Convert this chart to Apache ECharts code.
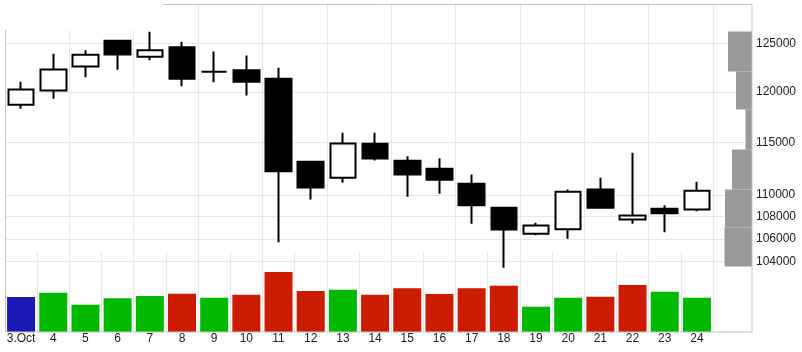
<!DOCTYPE html>
<html><head><meta charset="utf-8">
<script src="https://cdn.jsdelivr.net/npm/echarts@6/dist/echarts.min.js"></script>
<style>html,body{margin:0;padding:0;background:#fff}#c{width:802px;height:352px}</style>
</head><body><div id="c"></div>
<script>
const categories = ['3.Oct','4','5','6','7','8','9','10','11','12','13','14','15','16','17','18','19','20','21','22','23','24'];
const openVals  = [118700,120140,122600,125290,123600,124610,122050,122215,121330,113120,111610,114860,113220,112460,111040,108820,106450,106870,110510,107750,108720,108660];
const closeVals = [120240,122290,123810,123830,124300,121330,122050,121020,112230,110700,114880,113440,111920,111420,109060,106840,107200,110300,108820,108110,108320,110390];
const lowVals   = [118300,119300,121500,122260,123250,120580,120980,119630,105700,109580,111140,113250,109830,110110,107360,103440,106330,106010,108800,107360,106600,108500];
const highVals  = [121020,123920,124300,125350,126240,125180,124160,123740,122460,113200,115930,115930,113660,113470,111920,108820,107450,110510,111610,113990,109060,111230];
const volumes   = [35000,39300,27300,33700,36000,38300,34300,37300,60000,41000,42300,37300,43800,38000,43700,46300,25300,34300,35300,47000,40300,34300];
const priceTicks = [104000,106000,108000,110000,115000,120000,125000,130000];
const vbpEdges = [103560,107020,110510,114300,118230,122080,126270];
const vbpVolumes = [27.5,27,20,6.5,16,24];

const candleData = categories.map((c,i)=>[openVals[i],closeVals[i],lowVals[i],highVals[i]]);
const volData = volumes.map((v,i)=>{
  let col = '#1919b3';
  if (i>0) col = closeVals[i] >= closeVals[i-1] ? '#00b900' : '#cc1c00';
  return {value:v, itemStyle:{color:col}};
});
const vbpData = vbpVolumes.map((v,i)=>[vbpEdges[i], vbpEdges[i+1], v]);

const gridColor = '#e8e8e8';
const labelFont = {fontFamily:'Liberation Sans, Arial, sans-serif', fontSize:12, color:'#222'};
const chart = echarts.init(document.getElementById('c'));
chart.setOption({
  animation:false,
  grid:[
    {left:5, top:-3, width:708, height:310.9, outerBoundsMode:'none', containLabel:false},
    {left:5, top:252, width:708, height:80, outerBoundsMode:'none', containLabel:false},
    {left:713, top:-3, width:39, height:310.9, outerBoundsMode:'none', containLabel:false}
  ],
  xAxis:[
    {type:'category', gridIndex:0, data:categories, boundaryGap:true, axisLine:{show:false}, axisTick:{show:false}, axisLabel:{show:false}, splitLine:{show:true, lineStyle:{color:gridColor}}},
    {type:'category', gridIndex:1, data:categories, boundaryGap:true, axisLine:{show:false}, axisTick:{show:false}, axisLabel:Object.assign({show:true, margin:1, interval:0}, labelFont), splitLine:{show:true, lineStyle:{color:gridColor}}},
    {type:'value', gridIndex:2, min:0, max:39, inverse:true, show:false}
  ],
  yAxis:[
    {type:'log', gridIndex:0, min:100000, max:130000, axisLine:{show:false}, axisTick:{show:false, customValues:priceTicks}, axisLabel:{show:false, customValues:priceTicks}, splitLine:{show:true, lineStyle:{color:gridColor}}},
    {type:'value', gridIndex:1, min:0, max:80000, show:false, splitLine:{show:false}},
    {type:'log', gridIndex:2, min:100000, max:130000, position:'right', axisLine:{show:false}, axisTick:{show:false, customValues:priceTicks}, axisLabel:Object.assign({show:true, margin:4, customValues:priceTicks, formatter:v=>String(Math.round(v))}, labelFont), splitLine:{show:true, lineStyle:{color:gridColor}}}
  ],
  series:[
    {type:'bar', xAxisIndex:1, yAxisIndex:1, data:volData, barWidth:28},
    {type:'custom', xAxisIndex:2, yAxisIndex:2, data:vbpData, encode:{x:2, y:[0,1]},
     renderItem:(params, api)=>{
       const lo=api.value(0), hi=api.value(1), v=api.value(2);
       const pT=api.coord([v,hi]), pB=api.coord([0,lo]);
       return {type:'rect', shape:{x:Math.min(pT[0],pB[0]), y:pT[1], width:Math.abs(pB[0]-pT[0]), height:pB[1]-pT[1]}, style:{fill:'#999999'}};
     }},
    {type:'candlestick', xAxisIndex:0, yAxisIndex:0, data:candleData, barWidth:26,
     itemStyle:{color:'#ffffff', color0:'#000000', borderColor:'#000000', borderColor0:'#000000', borderWidth:2}}
  ],
  graphic:[
    {type:'rect', z:100, shape:{x:5.5, y:4.5, width:746.5, height:327.5}, style:{fill:'none', stroke:'#c4c4c4', lineWidth:1}},
    {type:'rect', z:101, shape:{x:0, y:0, width:753, height:4}, style:{fill:'#ffffff'}},
    {type:'rect', z:101, shape:{x:0, y:0, width:163, height:30}, style:{fill:'#ffffff'}}
  ]
});
</script></body></html>
